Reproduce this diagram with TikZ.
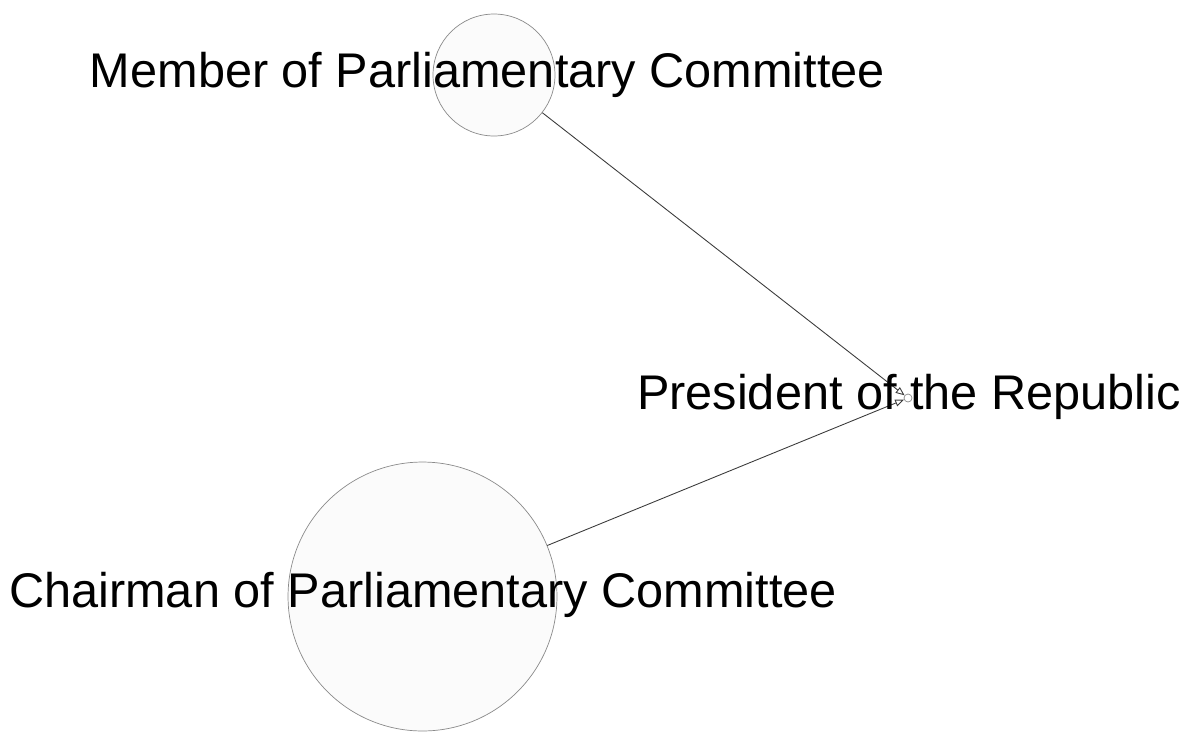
\documentclass[tikz,border=0pt]{standalone}
\usepackage{fontspec}
\setmainfont{Liberation Sans}
\usetikzlibrary{arrows.meta}
\definecolor{nodefill}{HTML}{FBFBFB}
\definecolor{nodeline}{HTML}{8A8A8A}
\definecolor{edgeline}{HTML}{3A3A3A}
\begin{document}
\begin{tikzpicture}[x=0.02cm, y=-0.02cm,
		vertex/.style={draw=nodeline, fill=nodefill, shape=circle, inner sep=0pt, line width=0.4pt},
		vlabel/.style={font=\fontsize{27.7}{33}\selectfont, anchor=base, inner sep=0pt},
		link/.style={draw=edgeline, line width=0.5pt, -{Triangle[open, length=5pt, width=4pt]}}]
	\useasboundingbox (0,0) rectangle (1193,731);

	\node[vertex, minimum size=2.44cm] at (494,75) (member) {};
	\node[vertex, minimum size=5.38cm] at (422.5,596.5) (chair) {};
	\node[vertex, fill=white, minimum size=0.16cm] at (908,398) (pres) {};

	\draw[link] (member) -- (pres);
	\draw[link] (chair) -- (pres);

	\node[vlabel] at (487.5,87) (membertext) {Member of Parliamentary Committee};
	\node[vlabel] at (423,607) (chairtext) {Chairman of Parliamentary Committee};
	\node[vlabel] at (909,409) (prestext) {President of the Republic};
\end{tikzpicture}
\end{document}
